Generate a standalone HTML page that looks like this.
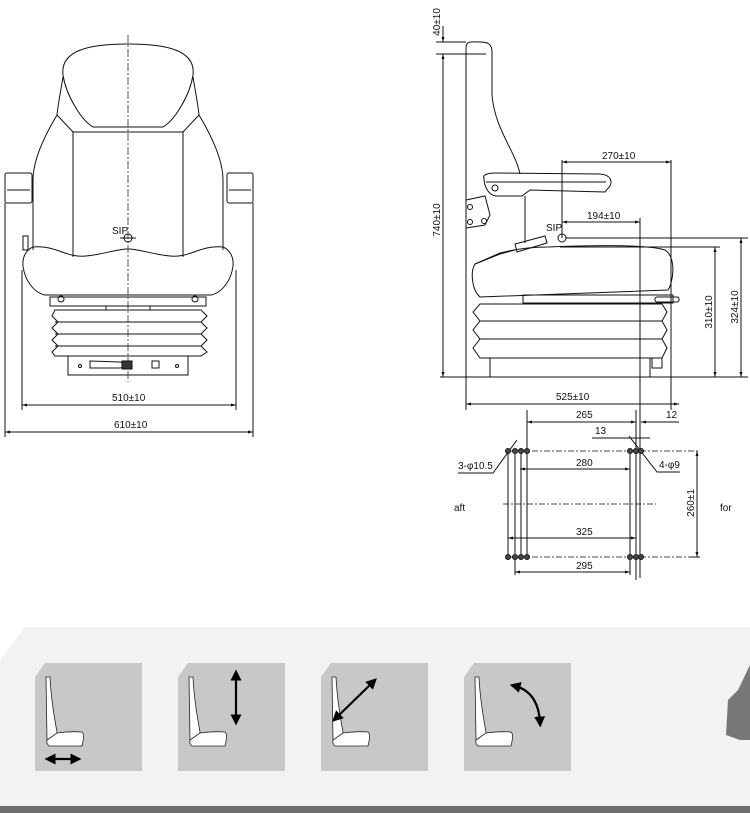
<!DOCTYPE html>
<html><head><meta charset="utf-8"><style>
html,body{margin:0;padding:0;background:#fff}
svg{display:block}
text{font-family:"Liberation Sans Narrow","Liberation Sans",sans-serif;font-size:10px;fill:#111}
</style></head><body>
<svg width="750" height="813" viewBox="0 0 750 813" xmlns="http://www.w3.org/2000/svg">
<defs>
<marker id="a" viewBox="0 0 10 10" refX="10" refY="5" markerWidth="7" markerHeight="5" orient="auto-start-reverse"><path d="M0,2 L10,5 L0,8z" fill="#111"/></marker>
<marker id="b" viewBox="0 0 10 10" refX="5" refY="5" markerWidth="5" markerHeight="5" orient="auto-start-reverse"><path d="M0,0 L10,5 L0,10z" fill="#000"/></marker>
</defs>
<g fill="none" stroke="#111" stroke-width="1">
<!-- FRONT VIEW -->
<line x1="128" y1="35" x2="128" y2="382" stroke-dasharray="8,2,2,2" stroke-width="0.7"/>
<path d="M63,75 C60,50 90,44 128,44 C166,44 196,50 193,75 C190,95 175,120 163,127 L93,127 C81,120 66,95 63,75z"/>
<path d="M63,77 C60,95 58,105 57,115 C45,135 33,160 33,180 L33,250"/>
<path d="M193,77 C196,95 198,105 199,115 C211,135 223,160 223,180 L223,250"/>
<path d="M57,115 L73,132 L183,132 L199,115"/>
<line x1="73" y1="132" x2="73" y2="257"/><line x1="183" y1="132" x2="183" y2="257"/>
<path d="M33,247 C28,249 22,255 23,266 C25,282 35,293 45,295 L211,295 C221,293 231,282 233,266 C234,255 228,249 223,247 C200,245 190,258 170,256 C150,254 140,249 128,249 C116,249 106,254 86,256 C66,258 56,245 33,247z"/>
<rect x="50" y="297" width="156" height="9"/>
<rect x="106" y="306" width="44" height="4"/>
<circle cx="61" cy="299" r="3"/><circle cx="195" cy="299" r="3"/>
<path d="M55,310 L201,310 L207,316 L201,322 L207,328 L201,334 L207,340 L201,346 L207,352 L201,356 L55,356 L52,352 L58,346 L52,340 L58,334 L52,328 L58,322 L52,316z"/>
<line x1="55" y1="322" x2="201" y2="322"/><line x1="55" y1="334" x2="201" y2="334"/><line x1="55" y1="346" x2="201" y2="346"/>
<rect x="68" y="356" width="120" height="19"/>
<circle cx="80" cy="366" r="1.5"/><circle cx="177" cy="366" r="1.5"/>
<path d="M90,361 L120,362 L125,363 L125,367 L120,368 L90,368z"/>
<rect x="122" y="361" width="10" height="8" fill="#333"/>
<rect x="152" y="361" width="7" height="7"/>
<rect x="5" y="173" width="27" height="30" rx="2"/><rect x="227" y="173" width="26" height="30" rx="2"/>
<line x1="7" y1="190" x2="30" y2="190"/><line x1="229" y1="190" x2="251" y2="190"/>
<rect x="23" y="236" width="5" height="14"/>
<line x1="5" y1="203" x2="5" y2="437"/><line x1="253" y1="203" x2="253" y2="437"/>
<line x1="22" y1="270" x2="22" y2="410"/><line x1="236" y1="270" x2="236" y2="410"/>
<line x1="22" y1="405" x2="236" y2="405" marker-start="url(#a)" marker-end="url(#a)"/>
<line x1="5" y1="432" x2="253" y2="432" marker-start="url(#a)" marker-end="url(#a)"/>
<circle cx="128" cy="238" r="4"/><line x1="120" y1="238" x2="136" y2="238"/>

<!-- SIDE VIEW -->
<path d="M466,377 L466,48 C466,40 472,42 480,42 C488,42 492,44 492,52 L492,95 C495,130 515,150 520,174"/>
<path d="M466,54 L486,54"/>
<path d="M484,178 C482,175 488,173 495,173 L600,174 C612,175 612,182 610,186 L605,192 L530,190 L522,196 L496,196 C488,195 484,186 484,178z"/>
<line x1="486" y1="182" x2="606" y2="182"/>
<circle cx="495" cy="188" r="3"/>
<path d="M466,200 L485,196 L490,215 L485,225 L466,228"/>
<circle cx="470" cy="207" r="2.5"/><circle cx="470" cy="222" r="2.5"/><circle cx="484" cy="221" r="2.5"/>
<line x1="525" y1="196" x2="525" y2="243"/>
<path d="M515,244 L545,236 L547,243 L517,252z"/>
<path d="M475,264 L500,254 L515,250"/>
<path d="M548,247 C600,245 650,245 665,250 C677,258 673,283 668,290 L480,297 C472,290 470,272 475,264 L500,253 C520,248 535,247 548,247z"/>
<rect x="523" y="295" width="150" height="8"/>
<rect x="655" y="297" width="24" height="5" rx="2"/>
<path d="M480,304 L662,304 L667,312 L662,321 L667,330 L662,339 L667,348 L662,358 L480,358 L473,348 L480,339 L473,330 L480,321 L473,312z"/>
<line x1="480" y1="321" x2="662" y2="321"/><line x1="480" y1="339" x2="662" y2="339"/>
<rect x="490" y="358" width="160" height="19"/>
<rect x="652" y="358" width="10" height="10"/>
<line x1="440" y1="377" x2="748" y2="377"/>
<line x1="436" y1="42" x2="466" y2="42"/><line x1="436" y1="54" x2="466" y2="54"/>
<line x1="443" y1="54" x2="443" y2="377" marker-start="url(#a)" marker-end="url(#a)"/>
<line x1="443" y1="26" x2="443" y2="42" marker-end="url(#a)"/>
<line x1="466" y1="377" x2="466" y2="410"/>
<line x1="562" y1="160" x2="562" y2="238"/>
<line x1="671" y1="160" x2="671" y2="410"/>
<line x1="640" y1="218" x2="640" y2="578"/>
<line x1="562" y1="162" x2="671" y2="162" marker-start="url(#a)" marker-end="url(#a)"/>
<line x1="562" y1="222" x2="640" y2="222" marker-start="url(#a)" marker-end="url(#a)"/>
<circle cx="562" cy="238" r="4"/>
<line x1="566" y1="238" x2="748" y2="238"/><line x1="560" y1="247" x2="720" y2="247"/>
<line x1="715" y1="247" x2="715" y2="377" marker-start="url(#a)" marker-end="url(#a)"/>
<line x1="741" y1="238" x2="741" y2="377" marker-start="url(#a)" marker-end="url(#a)"/>
<line x1="466" y1="404" x2="679" y2="404" marker-start="url(#a)" marker-end="url(#a)"/>
<!-- mounting pattern -->
<line x1="527" y1="410" x2="527" y2="560"/>
<line x1="636" y1="410" x2="636" y2="580"/>
<line x1="527" y1="422" x2="636" y2="422" marker-start="url(#a)" marker-end="url(#a)"/>
<line x1="641" y1="422" x2="679" y2="422" marker-start="url(#a)"/>
<line x1="592" y1="438" x2="650" y2="438"/>
<line x1="508" y1="451" x2="700" y2="451" stroke-dasharray="6,2,2,2" stroke-width="0.7"/>
<line x1="508" y1="557" x2="700" y2="557" stroke-dasharray="6,2,2,2" stroke-width="0.7"/>
<line x1="503" y1="504" x2="656" y2="504" stroke-dasharray="6,2,2,2" stroke-width="0.7"/>
<line x1="508" y1="451" x2="508" y2="560"/><line x1="515" y1="451" x2="515" y2="575"/><line x1="521" y1="451" x2="521" y2="557"/>
<line x1="630" y1="451" x2="630" y2="575"/>
<line x1="520" y1="469" x2="630" y2="469" marker-start="url(#a)" marker-end="url(#a)"/>
<line x1="508" y1="538" x2="636" y2="538" marker-start="url(#a)" marker-end="url(#a)"/>
<line x1="515" y1="572" x2="630" y2="572" marker-start="url(#a)" marker-end="url(#a)"/>
<line x1="697" y1="451" x2="697" y2="557" marker-start="url(#a)" marker-end="url(#a)"/>
<line x1="690" y1="557" x2="700" y2="557"/>
<path d="M458,473 L493,473 L517,440"/>
<path d="M680,472 L657,472 L629,436"/>
</g>
<g fill="#444" stroke="#111" stroke-width="0.8">
<circle cx="508" cy="451" r="2.6"/><circle cx="515" cy="451" r="2.6"/><circle cx="521" cy="451" r="2.6"/><circle cx="527" cy="451" r="2.6"/>
<circle cx="630" cy="451" r="2.6"/><circle cx="636" cy="451" r="2.6"/><circle cx="641" cy="451" r="2.6"/>
<circle cx="508" cy="557" r="2.6"/><circle cx="515" cy="557" r="2.6"/><circle cx="521" cy="557" r="2.6"/><circle cx="527" cy="557" r="2.6"/>
<circle cx="630" cy="557" r="2.6"/><circle cx="636" cy="557" r="2.6"/><circle cx="641" cy="557" r="2.6"/>
</g>
<text x="112" y="234">SIP</text>
<text x="112" y="401">510±10</text>
<text x="114" y="428">610±10</text>
<text x="546" y="231">SIP</text>
<text x="602" y="159">270±10</text>
<text x="587" y="219">194±10</text>
<text x="556" y="400">525±10</text>
<text x="576" y="418">265</text>
<text x="666" y="418">12</text>
<text x="595" y="434">13</text>
<text x="576" y="466">280</text>
<text x="576" y="535">325</text>
<text x="576" y="569">295</text>
<text x="458" y="469">3-φ10.5</text>
<text x="659" y="468">4-φ9</text>
<text x="454" y="511">aft</text>
<text x="720" y="511">for</text>
<text transform="translate(440,220) rotate(-90)" text-anchor="middle">740±10</text>
<text transform="translate(440,22) rotate(-90)" text-anchor="middle">40±10</text>
<text transform="translate(712,312) rotate(-90)" text-anchor="middle">310±10</text>
<text transform="translate(738,307) rotate(-90)" text-anchor="middle">324±10</text>
<text transform="translate(694,503) rotate(-90)" text-anchor="middle">260±1</text>

<!-- BOTTOM PANEL -->
<path d="M25,627 L750,627 L750,806 L0,806 L0,660z" fill="#f2f2f2"/>
<rect x="0" y="806" width="750" height="7" fill="#6d6d6d"/>
<g fill="#c8c8c8">
<path d="M45,663 L142,663 L142,771 L35,771 L35,677z"/>
<path d="M188,663 L285,663 L285,771 L178,771 L178,677z"/>
<path d="M331,663 L428,663 L428,771 L321,771 L321,677z"/>
<path d="M474,663 L571,663 L571,771 L464,771 L464,677z"/>
</g>
<g fill="#fff" stroke="#222" stroke-width="0.8">
<g id="s"><path d="M46,677 L50,677 Q51,700 57,732 L57,734 L47,740 z"/><path d="M47,740 L57,733 Q70,731 82,732 Q85,734 82,746 L49,746 Q46,743 47,740z"/></g>
<use href="#s" x="143"/><use href="#s" x="286"/><use href="#s" x="429"/>
</g>
<g stroke="#000" stroke-width="2.2" fill="none">
<line x1="50" y1="759" x2="76" y2="759" marker-start="url(#b)" marker-end="url(#b)"/>
<line x1="236" y1="675" x2="236" y2="720" marker-start="url(#b)" marker-end="url(#b)"/>
<line x1="373" y1="682" x2="336" y2="718" marker-start="url(#b)" marker-end="url(#b)"/>
<path d="M515,686 Q538,692 540,722" marker-start="url(#b)" marker-end="url(#b)"/>
</g>
<path d="M750,665 L738,690 L728,700 L726,735 L740,740 L750,740z" fill="#777"/>
</svg>
</body></html>
